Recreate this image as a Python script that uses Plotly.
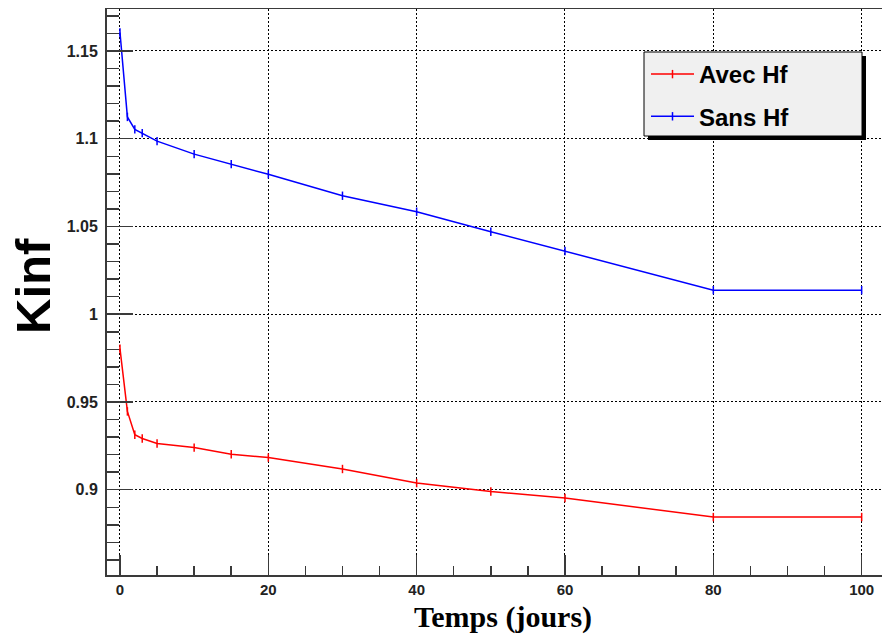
import plotly.graph_objects as go

# ---- data ----
temps = [0, 1, 2, 3, 5, 10, 15, 20, 30, 40, 50, 60, 80, 100]
kinf_avec_hf = [0.9804, 0.9446, 0.9313, 0.9292, 0.9263, 0.9240, 0.9202, 0.9183,
                0.9118, 0.9038, 0.8990, 0.8953, 0.8844, 0.8844]
kinf_sans_hf = [1.1605, 1.1124, 1.1053, 1.1032, 1.0986, 1.0912, 1.0855, 1.0797,
                1.0675, 1.0584, 1.0470, 1.0360, 1.0137, 1.0137]
series_names = ["Avec Hf", "Sans Hf"]
y_tickvals = [0.9, 0.95, 1.0, 1.05, 1.1, 1.15]
y_ticktext = ["0.9", "0.95", "1", "1.05", "1.1", "1.15"]
x_tickvals = [0, 20, 40, 60, 80, 100]
x_ticktext = ["0", "20", "40", "60", "80", "100"]
x_title = "Temps (jours)"
y_title = "Kinf"

# page offset of the figure (default body margin)
OFF = 8
W, H = 890, 637
L, R, T, B = 99, 0, 1, 70
pw, ph = W - L - R, H - T - B

def px_x(p):
    return (p - OFF - L) / pw

def px_y(p):
    return 1 - (p - OFF - T) / ph

fig = go.Figure()
for name, vals, col in [(series_names[0], kinf_avec_hf, "#ff0000"),
                        (series_names[1], kinf_sans_hf, "#0000ff")]:
    fig.add_trace(go.Scatter(
        x=temps, y=vals, name=name, mode="lines+markers",
        legendgroup=name, hoverinfo="skip",
        line=dict(color=col, width=1.5),
        marker=dict(symbol="line-ns-open", size=6, line=dict(color=col, width=1.5)),
    ))

# legend box with shadow
bx0, bx1, by0, by1 = 644, 862, 52, 136
sh = 4
fig.add_shape(type="rect", xref="paper", yref="paper", layer="above",
              x0=px_x(bx0 + sh), x1=px_x(bx1 + sh), y0=px_y(by1 + sh), y1=px_y(by0 + sh),
              fillcolor="black", line=dict(width=0))
fig.add_shape(type="rect", xref="paper", yref="paper", layer="above",
              x0=px_x(bx0), x1=px_x(bx1), y0=px_y(by1), y1=px_y(by0),
              fillcolor="#f0f0f0", line=dict(color="black", width=1))

# axis titles
fig.add_annotation(text=x_title, xref="paper", yref="paper", showarrow=False,
                   x=px_x(503), y=px_y(617), xanchor="center", yanchor="middle",
                   font=dict(family="Liberation Serif, Times New Roman, serif", size=30,
                             color="black", weight="bold"))
fig.add_annotation(text=y_title, xref="paper", yref="paper", showarrow=False,
                   x=px_x(33), y=px_y(286), xanchor="center", yanchor="middle",
                   textangle=-90,
                   font=dict(family="Liberation Sans, Arial, sans-serif", size=49,
                             color="black", weight="bold"))

axis_common = dict(
    showline=True, linecolor="#3a3a3a", linewidth=2,
    ticks="inside", tickcolor="#3a3a3a", tickwidth=1.5,
    showgrid=True, gridcolor="black", gridwidth=1, griddash="2px,2px",
    zeroline=False,
)

fig.update_layout(
    width=W, height=H,
    margin=dict(l=L, r=R, t=T, b=B, pad=0),
    paper_bgcolor="white", plot_bgcolor="white",
    showlegend=True, hovermode=False,
    legend=dict(
        x=px_x(646), y=px_y(52), xanchor="left", yanchor="top",
        bgcolor="rgba(0,0,0,0)", borderwidth=0,
        font=dict(family="Liberation Sans, Arial, sans-serif", size=24, color="black", weight="bold"),
        itemwidth=43, tracegroupgap=8,
    ),
    xaxis=dict(
        range=[-1.75, 104.9], mirror=True,
        tickvals=x_tickvals, ticktext=x_ticktext, ticklen=20,
        minor=dict(dtick=5, tick0=0, ticklen=9, ticks="inside", tickcolor="#3a3a3a", showgrid=False),
        tickfont=dict(family="Liberation Sans, Arial, sans-serif", size=15, color="#222", weight="bold"),
        **axis_common,
    ),
    yaxis=dict(
        range=[0.8514, 1.1739], mirror=False,
        tickvals=y_tickvals, ticktext=y_ticktext, ticklen=26,
        minor=dict(dtick=0.01, tick0=0, ticklen=12, ticks="inside", tickcolor="#3a3a3a", showgrid=False),
        tickfont=dict(family="Liberation Sans, Arial, sans-serif", size=16, color="#222", weight="bold"),
        ticklabelstandoff=4,
        **axis_common,
    ),
)

fig.write_html("out.html", config={"displayModeBar": False, "staticPlot": True})
